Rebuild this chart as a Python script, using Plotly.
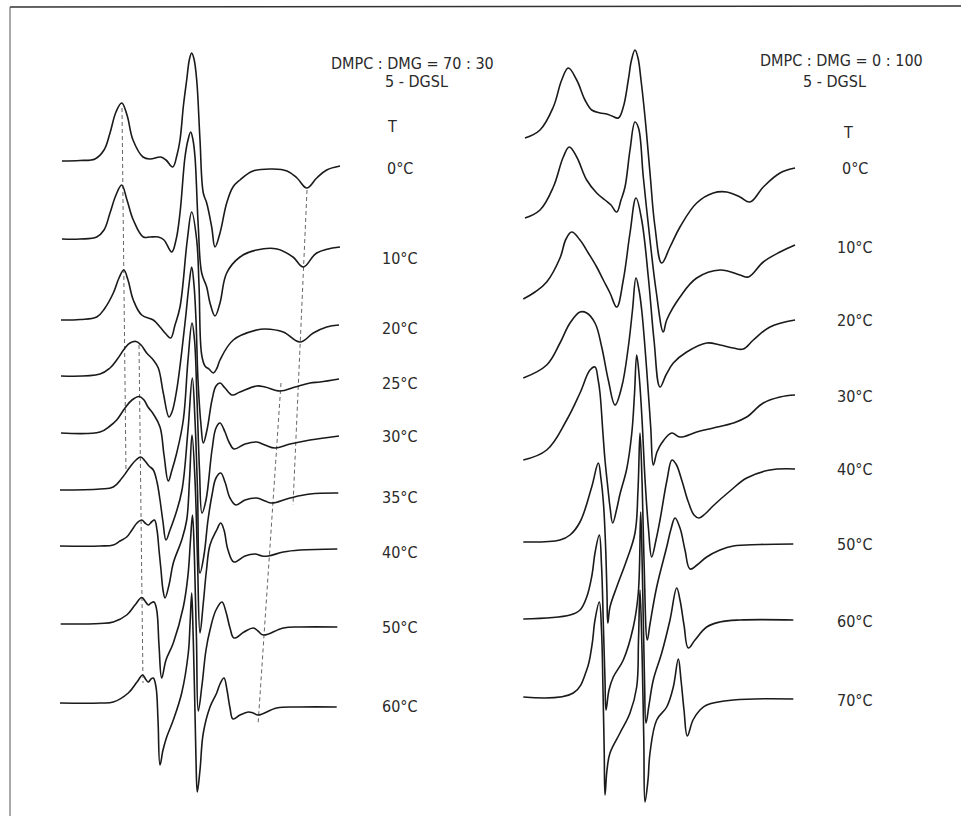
import plotly.graph_objects as go

# ---------------- data (field position, derivative signal) ----------------
# Left panel: DMPC:DMG = 70:30, 5-DGSL
TEMPS_L = ["0°C", "10°C", "20°C", "25°C", "30°C", "35°C", "40°C", "50°C", "60°C"]
BASE_L = [161, 239, 320, 376, 433, 490, 546, 624, 703]
LABEL_Y_L = [168, 258, 328, 383, 436, 497, 552, 627, 706]

L00_X = [62, 80, 95, 104, 110, 116, 121.7, 127, 133, 143, 150, 160.7, 166, 172.7, 177, 180, 183.5, 186.7, 189.5, 191.7, 194, 196.7, 200, 203.3, 206.7, 211.7, 215, 220, 226.7, 233, 240, 253, 273, 287, 297, 306.7, 316.7, 326.7, 340]
L00_Y = [0, 0.5, 2, 11, 28, 49, 58, 46, 21, 4, 2, 4, 1, -6, 6, 21, 56, 81, 102, 108, 102, 81, 21, -32, -42, -66, -86, -72, -42, -26, -19, -10, -8, -10, -17, -27, -17, -9, -5]
L10_X = [62, 80, 96.7, 104, 110, 116, 121.7, 127, 133.3, 143.3, 150, 158.3, 164, 171.7, 176, 180, 185, 188, 190.7, 193, 195, 198.3, 201.7, 206.7, 210, 215, 220, 226.7, 240, 256.7, 277, 293, 303.3, 316.7, 340]
L10_Y = [0, 0, 2, 9, 26, 44, 54, 39, 19, 2, 2, 2, -1, -13, -1, 26, 82, 99, 107, 99, 82, 12, -34, -48, -64, -77, -64, -34, -18, -11, -10, -18, -28, -14, -8]
L20_X = [61, 80, 96.7, 105, 113.3, 119, 123.8, 128, 133.3, 141.7, 153.3, 160, 166, 170.7, 175, 180, 187.3, 191.7, 196.7, 199, 201.7, 205, 209, 213.3, 217, 220, 233.3, 256.7, 265, 283.3, 300, 313.3, 326.7, 339]
L20_Y = [0, 0.5, 3, 12, 27, 42, 50, 40, 20, 5, 0, -7, -14, -18, -5, 13, 80, 108, 80, 35, -35, -46, -49, -53, -48, -40, -20, -10, -9, -12, -22, -13, -7, -5]
L25_X = [61, 100, 110, 116.7, 125, 130, 136, 141, 146.7, 153.3, 158.3, 163.3, 169, 172, 176.7, 185, 189, 191.7, 194, 196, 198, 201, 203.3, 207, 212, 216, 220, 225, 232.3, 240, 256.7, 265, 280, 295, 310, 320, 339]
L25_Y = [0, 2, 8, 16, 28, 33, 34.5, 31, 23, 16, 8, -17, -41, -36, -14, 53, 91, 109, 91, 56, -4, -49, -67, -54, -24, -10, -7, -12, -19, -16, -10, -11, -15, -11, -7, -6, -3]
L30_X = [61, 100, 110, 116.7, 125, 132, 139.3, 144, 148, 153.3, 160, 164, 168.3, 172, 176.7, 183.3, 188, 192, 194.5, 197, 199.5, 202, 206, 212, 216, 220, 225, 229, 234, 245, 256.7, 265, 275, 290, 310, 339]
L30_Y = [0, 1, 7, 13, 25, 33, 36.5, 33, 26, 19, 6, -22, -48, -37, -20, 13, 73, 110, 93, 33, -37, -80, -67, -17, 5, 10, 1, -9, -16, -11, -9, -12, -15, -11, -7, -3]
L35_X = [60, 100, 113.3, 122, 130, 136, 140.7, 145, 149, 153.3, 157, 160, 163, 166, 170, 176, 182, 188, 192.3, 195, 197.5, 200, 204, 208, 212, 216, 220.7, 225, 230, 236, 245, 256.7, 265, 271.7, 290, 310, 338.3]
L35_Y = [0, 1, 3, 12, 23, 30, 33, 29, 24, 20, 8, -10, -32, -50, -40, -23, 0, 60, 112, 70, 0, -83, -65, -30, -5, 12, 17, 8, -8, -15, -10, -8, -11, -13, -8, -4, -3]
L40_X = [60, 100, 113.3, 120, 126.7, 132, 137, 141.7, 145, 148.3, 151.5, 154.5, 157, 159, 161, 163, 165, 169, 173.3, 181.7, 186.7, 189.5, 192, 195, 197.5, 200, 203.3, 206.5, 210, 216.7, 220.7, 224, 228, 234, 245, 255, 262, 268.3, 283.3, 300, 337.3]
L40_Y = [0, 0, 1, 5, 9, 16, 23, 26, 23, 21, 24, 26, 16, -4, -24, -44, -52, -39, -17, 6, 26, 66, 111, 66, -14, -87, -57, -24, 1, 16, 23, 16, -4, -16, -10, -8, -10, -10, -6, -4, -3]
L50_X = [60.7, 100, 113.3, 126.7, 135, 141.7, 145, 148.3, 151, 154, 156.7, 159, 161.7, 166, 173.3, 183.3, 188, 190.5, 192.5, 194.5, 196.5, 198.3, 202, 206, 210, 216, 222, 226, 230, 234, 244, 253.3, 258, 263.3, 283.3, 300, 337.3]
L50_Y = [0, 0.5, 2, 9, 19, 26.5, 23, 19, 21, 22, 14, -21, -54, -36, -19, 17, 49, 84, 109, 64, -16, -87, -61, -26, -6, 14, 22, 12, -4, -14, -8, -4, -7, -11, -4, -3, -3]
L60_X = [60, 100, 113.3, 128.3, 137, 142.7, 145.5, 148.3, 151, 153.3, 156, 158, 160, 163, 166.7, 173.3, 181.7, 188.3, 190, 191.7, 193, 194.5, 196, 197.3, 200, 203.3, 210, 216.7, 220, 224, 227, 230, 233, 240, 248.3, 253, 258.3, 276.7, 300, 336.7]
L60_Y = [0, 0, 1, 10, 21, 28, 24, 21, 24, 25, 16, -17, -62, -47, -34, -17, 10, 50, 78, 110, 73, 13, -57, -89, -67, -30, -4, 10, 19, 25, 13, -5, -16, -12, -9, -10, -12, -5, -4, -4]

# Right panel: DMPC:DMG = 0:100, 5-DGSL
TEMPS_R = ["0°C", "10°C", "20°C", "30°C", "40°C", "50°C", "60°C", "70°C"]
BASE_R = [168, 245, 320, 395, 469, 544, 620, 699]
LABEL_Y_R = [168, 247, 320, 396, 469, 544, 621, 700]

R00_X = [525, 540, 553.3, 561.7, 568.3, 576.7, 585, 591.7, 600, 606.7, 612, 618.3, 623.3, 628.3, 631.5, 635, 638, 641, 645, 650, 655, 661.7, 670, 680, 696.7, 713.3, 726.7, 740, 750, 763.3, 780, 795]
R00_Y = [30, 38, 61, 88, 100, 88, 68, 58, 55, 54, 52, 50, 61, 88, 108, 118, 110, 88, 51, -5, -59, -95, -79, -59, -35, -25, -24, -29, -34, -19, -5, 0]
R10_X = [525, 540, 553.3, 563.3, 569.3, 576.7, 586.7, 596.7, 605, 611, 616.7, 621, 625, 630, 635, 638.5, 643.3, 650, 656, 663.3, 666.7, 680, 696.7, 720, 740, 748.3, 763.3, 780, 795]
R10_Y = [27, 35, 58, 88, 98, 88, 65, 52, 45, 40, 33, 45, 58, 95, 123, 117, 68, 5, -45, -87, -75, -52, -33, -25, -30, -32, -17, -7, 0]
R20_X = [523.3, 535, 546.7, 560, 566, 571.7, 580, 588.3, 596.7, 603.3, 610, 616.7, 623.3, 630, 636, 641.7, 648.3, 654, 660, 666, 673.3, 686.7, 706.7, 720, 733.3, 743.3, 753.3, 770, 795]
R20_Y = [21, 28, 38, 62, 81, 88, 80, 67, 53, 40, 27, 13, 40, 87, 122, 100, 43, -20, -67, -55, -43, -32, -23, -25, -28, -29, -20, -7, 0]
R30_X = [523.3, 546.7, 560, 570, 580, 586.7, 595, 601.7, 608.3, 615, 621.7, 628.3, 632.5, 636, 639, 641.7, 646.7, 650.7, 653.3, 657, 661.7, 671.7, 680, 696.7, 713.3, 733.3, 746.7, 763.3, 780, 795]
R30_Y = [17, 30, 52, 72, 83, 82, 72, 48, 15, -10, 8, 48, 85, 117, 105, 85, 25, -32, -70, -57, -48, -38, -42, -37, -33, -28, -22, -8, -2, 0]
R40_X = [523.3, 546.7, 566.7, 580, 590, 595, 598, 600, 603, 605, 608, 610, 612.7, 616.7, 620, 626.7, 631.7, 634.5, 636.7, 639, 642, 645, 648.5, 651.7, 656, 660, 667, 672, 676, 682, 688, 694, 699, 705, 713, 730, 746.7, 770, 795]
R40_Y = [9, 19, 49, 76, 99, 102, 90, 76, 35, 9, -20, -38, -54, -40, -25, 0, 35, 75, 114, 95, 50, -10, -60, -88, -71, -51, -11, 9, 5, -12, -32, -46, -49, -45, -37, -22, -9, -1, 0]
R50_X = [523.3, 560, 570, 580, 591.7, 598.3, 601, 603.5, 605.5, 607, 607.8, 610, 616.7, 626.7, 635, 638, 640, 642, 644, 647.3, 650, 656.7, 666.7, 671, 675, 680, 685, 690, 697, 706.7, 720, 733.3, 760, 793.3]
R50_Y = [2, 4, 9, 22, 57, 81, 65, 40, 0, -50, -79, -63, -43, -16, 11, 54, 111, 64, -16, -96, -80, -43, -3, 15, 26, 16, -6, -25, -21, -13, -6, -2, -0.5, 0]
R60_X = [523.3, 570, 580, 586.7, 592, 595, 599.3, 601.5, 603.5, 605, 606, 609, 613.3, 623.3, 633.3, 638.3, 640.7, 642.5, 644.5, 646, 649, 653.3, 661.7, 670, 676.7, 680, 684, 688.3, 695, 706.7, 720, 740, 793.3]
R60_Y = [1, 5, 10, 23, 45, 67, 85, 55, -10, -60, -90, -70, -57, -40, -7, 27, 108, 40, -60, -103, -85, -60, -33, 0, 32, 20, -5, -28, -20, -7, -2, 0, 0]
R70_X = [523.3, 573.3, 586.7, 592, 595, 599.3, 601.5, 603, 604.2, 605, 607, 610, 620, 630, 636.7, 638.5, 640, 642, 643.8, 645, 648, 650, 656.7, 666.7, 673.3, 678.3, 681, 684, 687.3, 693, 700, 706.7, 733.3, 793.3]
R70_Y = [2, 6, 29, 54, 79, 97, 69, 9, -51, -96, -71, -54, -34, -14, 12, 59, 109, 49, -41, -103, -81, -54, -21, -8, 12, 40, 19, -11, -37, -21, -11, -6, -1, 0]

# dashed guide lines (field, stacked level) in the left panel
GUIDE_X0 = [122, 139, 307, 281]
GUIDE_Y0 = [108, 345, 190, 383]
GUIDE_X1 = [126, 143, 293, 258]
GUIDE_Y1 = [473, 683, 505, 725]

SPEC_L = [(L00_X, L00_Y), (L10_X, L10_Y), (L20_X, L20_Y), (L25_X, L25_Y), (L30_X, L30_Y),
          (L35_X, L35_Y), (L40_X, L40_Y), (L50_X, L50_Y), (L60_X, L60_Y)]
SPEC_R = [(R00_X, R00_Y), (R10_X, R10_Y), (R20_X, R20_Y), (R30_X, R30_Y),
          (R40_X, R40_Y), (R50_X, R50_Y), (R60_X, R60_Y), (R70_X, R70_Y)]

# ---------------- figure ----------------
fig = go.Figure()
INK = "#1a1a1a"

for gx0, gy0, gx1, gy1 in zip(GUIDE_X0, GUIDE_Y0, GUIDE_X1, GUIDE_Y1):
    fig.add_trace(go.Scatter(x=[gx0, gx1], y=[gy0, gy1], mode="lines",
                             line=dict(color="#666", width=1, dash="4px,3px"),
                             hoverinfo="skip"))

for (xs, ys), base in list(zip(SPEC_L, BASE_L)) + list(zip(SPEC_R, BASE_R)):
    fig.add_trace(go.Scatter(x=xs, y=[base - v for v in ys], mode="lines",
                             line=dict(color=INK, width=1.6, shape="spline", smoothing=1.1),
                             hoverinfo="skip"))

FONT = dict(family="Liberation Sans Narrow, DejaVu Sans Condensed, Liberation Sans, sans-serif",
            size=16, color="#2a2a2a")

ann = []
for t, ly in zip(TEMPS_L, LABEL_Y_L):
    ann.append(dict(x=400, y=ly, text=t, showarrow=False, xanchor="center", yanchor="middle", font=FONT))
for t, ly in zip(TEMPS_R, LABEL_Y_R):
    ann.append(dict(x=855, y=ly, text=t, showarrow=False, xanchor="center", yanchor="middle", font=FONT))
ann += [
    dict(x=412, y=63, text="DMPC : DMG = 70 : 30", showarrow=False, xanchor="center", yanchor="middle", font=FONT),
    dict(x=416, y=81, text="5 - DGSL", showarrow=False, xanchor="center", yanchor="middle", font=FONT),
    dict(x=392, y=126, text="T", showarrow=False, xanchor="center", yanchor="middle", font=FONT),
    dict(x=841, y=60, text="DMPC : DMG = 0 : 100", showarrow=False, xanchor="center", yanchor="middle", font=FONT),
    dict(x=834, y=81, text="5 - DGSL", showarrow=False, xanchor="center", yanchor="middle", font=FONT),
    dict(x=848, y=132, text="T", showarrow=False, xanchor="center", yanchor="middle", font=FONT),
]

fig.update_layout(
    width=961, height=816,
    margin=dict(l=0, r=0, t=0, b=0),
    paper_bgcolor="white", plot_bgcolor="white",
    showlegend=False,
    xaxis=dict(range=[0, 961], visible=False, fixedrange=True),
    yaxis=dict(range=[816, 0], visible=False, fixedrange=True),
    annotations=ann,
    shapes=[
        dict(type="line", xref="x", yref="y", x0=10, y0=7, x1=961, y1=6,
             line=dict(color="#333", width=1.5)),
        dict(type="line", xref="x", yref="y", x0=10, y0=7, x1=10, y1=816,
             line=dict(color="#555", width=1)),
    ],
)

fig.write_html("out.html")
